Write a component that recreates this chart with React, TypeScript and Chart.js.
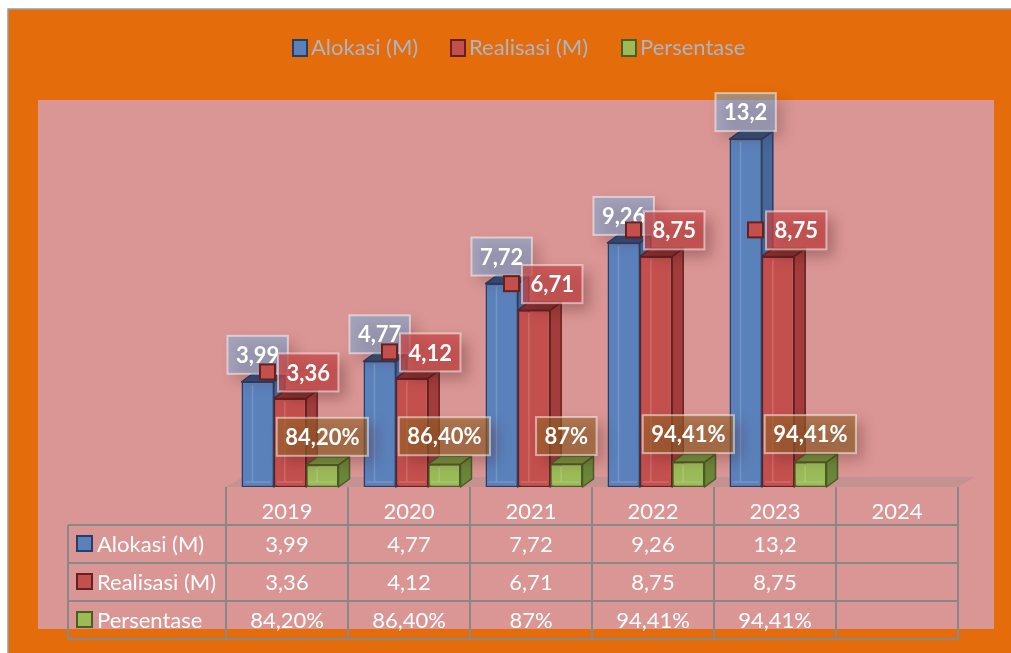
import { useEffect, useRef } from 'react';
import { Chart, registerables } from 'chart.js';

Chart.register(...registerables);

// ---------- data ----------
const categories = ['2019', '2020', '2021', '2022', '2023', '2024'];
const seriesNames = ['Alokasi (M)', 'Realisasi (M)', 'Persentase'];
const alokasi: (number | null)[] = [3.99, 4.77, 7.72, 9.26, 13.2, null];
const realisasi: (number | null)[] = [3.36, 4.12, 6.71, 8.75, 8.75, null];
const persentase: (number | null)[] = [0.842, 0.864, 0.87, 0.9441, 0.9441, null];
const persentaseText = ['84,20%', '86,40%', '87%', '94,41%', '94,41%', ''];
const yMax = 14;

// ---------- styles ----------
const W = 1011;
const H = 653;
const FRONT = ['#5b81bb', '#c4504e', '#9bbb59'];
const TOP = ['#344f7a', '#8a3030', '#76933f'];
const SIDE = ['#47669a', '#a23d3c', '#6a863a'];
const EDGE = ['#263f66', '#652020', '#4a5d25'];
const BOX = ['rgba(115,175,225,0.5)', 'rgba(200,70,70,0.72)', 'rgba(150,100,40,0.6)'];
const DX = 11;
const DY = 8;
const FONT = 'Lato, "Open Sans", sans-serif';
const TABLE_DX = -3;

const fmt = (v: number | null) => (v == null ? '' : String(v).replace('.', ','));
const seriesValues = [alokasi, realisasi, persentase];
const seriesText = [alokasi.map(fmt), realisasi.map(fmt), persentaseText];

function poly(ctx: CanvasRenderingContext2D, pts: number[][], fill: string, stroke?: string, lw = 1.5) {
  ctx.beginPath();
  ctx.moveTo(pts[0][0], pts[0][1]);
  for (let i = 1; i < pts.length; i++) ctx.lineTo(pts[i][0], pts[i][1]);
  ctx.closePath();
  ctx.fillStyle = fill;
  ctx.fill();
  if (stroke) {
    ctx.strokeStyle = stroke;
    ctx.lineWidth = lw;
    ctx.lineJoin = 'round';
    ctx.stroke();
  }
}

function barGeom(chart: any, d: number, i: number) {
  const meta = chart.getDatasetMeta(d);
  const el = meta.data[i];
  if (!el || seriesValues[d][i] == null) return null;
  const p = el.getProps(['x', 'y', 'base', 'width'], true);
  return { x: p.x, y: p.y, base: p.base, w: p.width, left: p.x - p.width / 2, right: p.x + p.width / 2 };
}

function labelBox(ctx: CanvasRenderingContext2D, x: number, y: number, w: number, h: number, fill: string) {
  ctx.save();
  ctx.shadowColor = 'rgba(70,20,20,0.45)';
  ctx.shadowBlur = 14;
  ctx.shadowOffsetX = 7;
  ctx.shadowOffsetY = 7;
  ctx.fillStyle = fill;
  ctx.fillRect(x, y, w, h);
  ctx.restore();
  ctx.strokeStyle = 'rgba(255,255,255,0.5)';
  ctx.lineWidth = 2;
  ctx.strokeRect(x, y, w, h);
}

function marker(ctx: CanvasRenderingContext2D, x: number, y: number, w: number, h: number, d: number) {
  ctx.fillStyle = FRONT[d];
  ctx.fillRect(x, y, w, h);
  ctx.strokeStyle = EDGE[d];
  ctx.lineWidth = 2;
  ctx.strokeRect(x, y, w, h);
}

const decor = {
  id: 'decor',
  beforeDraw(chart: any) {
    const ctx: CanvasRenderingContext2D = chart.ctx;
    ctx.save();
    ctx.fillStyle = '#ffffff';
    ctx.fillRect(0, 0, W, H);
    ctx.fillStyle = '#E46C0A';
    ctx.fillRect(8, 9, W - 8, H - 9);
    ctx.strokeStyle = '#9a9a9a';
    ctx.lineWidth = 1.5;
    ctx.beginPath();
    ctx.moveTo(8, H);
    ctx.lineTo(8, 9);
    ctx.lineTo(W, 9);
    ctx.stroke();
    ctx.fillStyle = '#D99694';
    ctx.fillRect(38, 100, 956, 529);

    // legend
    ctx.font = `22px ${FONT}`;
    ctx.textBaseline = 'middle';
    ctx.textAlign = 'left';
    const legendX = [293, 451, 622];
    seriesNames.forEach((name, d) => {
      marker(ctx, legendX[d], 40, 14, 16, d);
      ctx.fillStyle = '#aab5c6';
      ctx.fillText(name, legendX[d] + 18, 48);
    });
    ctx.restore();
  },
  beforeDatasetsDraw(chart: any) {
    const ctx: CanvasRenderingContext2D = chart.ctx;
    const area = chart.chartArea;
    ctx.save();
    // floor
    const fl = area.left + TABLE_DX;
    const fr = fl + (area.right - area.left);
    poly(ctx, [[fl, area.bottom], [fr, area.bottom], [fr + 17, area.bottom - 10], [fl + 17, area.bottom - 10]], 'rgba(150,140,135,0.3)');
    // 3D top & side faces
    for (let i = 0; i < categories.length; i++) {
      for (let d = 0; d < 3; d++) {
        const g = barGeom(chart, d, i);
        if (!g) continue;
        poly(ctx, [[g.right, g.y], [g.right + DX, g.y - DY], [g.right + DX, g.base - DY], [g.right, g.base]], SIDE[d], EDGE[d]);
        poly(ctx, [[g.left, g.y], [g.right, g.y], [g.right + DX, g.y - DY], [g.left + DX, g.y - DY]], TOP[d], EDGE[d]);
      }
    }
    ctx.restore();
  },
  afterDatasetsDraw(chart: any) {
    const ctx: CanvasRenderingContext2D = chart.ctx;
    ctx.save();
    // subtle bevel highlight on front faces
    for (let i = 0; i < categories.length; i++) {
      for (let d = 0; d < 3; d++) {
        const g = barGeom(chart, d, i);
        if (!g) continue;
        ctx.strokeStyle = 'rgba(255,255,255,0.16)';
        ctx.lineWidth = 1.5;
        ctx.beginPath();
        ctx.moveTo(g.left + 11, g.y + 3);
        ctx.lineTo(g.left + 11, g.base - 5);
        ctx.moveTo(g.left + 3, g.base - 5);
        ctx.lineTo(g.right - 3, g.base - 5);
        ctx.stroke();
      }
    }
    // data labels
    ctx.font = `bold 22px ${FONT}`;
    ctx.textBaseline = 'middle';
    ctx.textAlign = 'center';
    const bh = 38;
    for (let d = 0; d < 3; d++) {
      for (let i = 0; i < categories.length; i++) {
        const g = barGeom(chart, d, i);
        if (!g) continue;
        const txt = seriesText[d][i];
        const bw = ctx.measureText(txt).width + 17;
        let bx: number;
        let by: number;
        if (d === 0) {
          bx = g.x - bw / 2;
          by = g.y - DY - bh;
        } else if (d === 1) {
          bx = g.x - 12;
          by = g.y - 7 - bh;
        } else {
          bx = g.x - bw / 2;
          by = g.y - 9 - bh;
        }
        labelBox(ctx, bx, by, bw, bh, BOX[d]);
        if (d === 1) marker(ctx, g.x - 30, by + bh / 2 - 8, 15, 15, 1);
        ctx.fillStyle = '#ffffff';
        ctx.fillText(txt, bx + bw / 2, by + bh / 2 + 1);
      }
    }
    ctx.restore();
  },
  afterDraw(chart: any) {
    const ctx: CanvasRenderingContext2D = chart.ctx;
    const area = chart.chartArea;
    const xs = chart.scales.x;
    const n = categories.length;
    const step = (xs.right - xs.left) / n;
    const bounds = Array.from({ length: n + 1 }, (_, k) => xs.left + k * step + TABLE_DX);
    const rows = [525, 563, 601, 639];
    const leftX = 68;
    ctx.save();
    ctx.strokeStyle = '#888888';
    ctx.lineWidth = 2;
    ctx.beginPath();
    bounds.forEach((bx) => {
      ctx.moveTo(bx, area.bottom);
      ctx.lineTo(bx, rows[3]);
    });
    ctx.moveTo(leftX, rows[0]);
    ctx.lineTo(leftX, rows[3]);
    rows.forEach((ry) => {
      ctx.moveTo(leftX, ry);
      ctx.lineTo(bounds[n], ry);
    });
    ctx.stroke();

    ctx.font = `22px ${FONT}`;
    ctx.textBaseline = 'middle';
    ctx.fillStyle = '#ffffff';
    ctx.textAlign = 'center';
    categories.forEach((c, i) => {
      ctx.fillText(c, (bounds[i] + bounds[i + 1]) / 2, 512);
    });
    for (let d = 0; d < 3; d++) {
      const cy = (rows[d] + rows[d + 1]) / 2 + 1;
      ctx.textAlign = 'center';
      ctx.fillStyle = '#ffffff';
      seriesText[d].forEach((t, i) => {
        if (t) ctx.fillText(t, (bounds[i] + bounds[i + 1]) / 2, cy);
      });
      marker(ctx, 77, cy - 9, 15, 15, d);
      ctx.textAlign = 'left';
      ctx.fillStyle = '#ffffff';
      ctx.fillText(seriesNames[d], 97, cy);
    }
    ctx.restore();
  },
};

export default function App() {
  const ref = useRef<HTMLCanvasElement | null>(null);
  useEffect(() => {
    if (!ref.current) return;
    const chart = new Chart(ref.current, {
      type: 'bar',
      data: {
        labels: categories,
        datasets: seriesNames.map((name, d) => ({
          label: name,
          data: seriesValues[d] as any,
          backgroundColor: FRONT[d],
          borderColor: EDGE[d],
          borderWidth: 1.5,
          borderSkipped: false,
          categoryPercentage: 0.795,
          barPercentage: 1,
        })),
      },
      options: {
        responsive: false,
        animation: false,
        layout: { padding: { left: 229, right: 50, top: 118, bottom: 166 } },
        plugins: { legend: { display: false }, tooltip: { enabled: false } },
        scales: {
          x: { display: false, grid: { display: false } },
          y: { display: false, min: 0, max: yMax, grid: { display: false } },
        },
      },
      plugins: [decor],
    });
    return () => chart.destroy();
  }, []);
  return (
    <div style={{ position: 'absolute', left: 0, top: 0, width: W, height: H }}>
      <canvas ref={ref} width={W} height={H} style={{ display: 'block' }} />
    </div>
  );
}
